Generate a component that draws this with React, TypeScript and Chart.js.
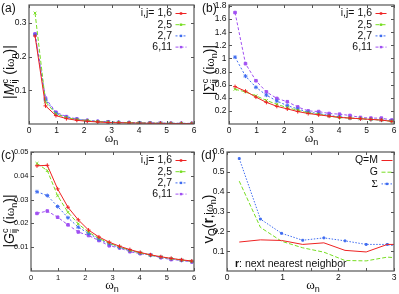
import React, { useEffect, useRef } from "react";
import { Chart, registerables } from "chart.js";

Chart.register(...registerables);

// ---------- data ----------
const OMEGA = [0.22, 0.6, 0.98, 1.36, 1.74, 2.12, 2.5, 2.88, 3.26, 3.64, 4.02, 4.4, 4.78, 5.16, 5.54, 5.92];

const M_16 = [0.262, 0.054, 0.025, 0.016, 0.011, 0.008, 0.006, 0.0045, 0.0035, 0.003, 0.0025, 0.002, 0.0018, 0.0015, 0.0013, 0.0012];
const M_25 = [0.33, 0.066, 0.03, 0.019, 0.013, 0.01, 0.007, 0.0055, 0.0045, 0.0037, 0.003, 0.0026, 0.0022, 0.0019, 0.0016, 0.0014];
const M_27 = [0.265, 0.072, 0.032, 0.02, 0.014, 0.01, 0.0075, 0.006, 0.0048, 0.004, 0.0033, 0.0028, 0.0024, 0.002, 0.0018, 0.0016];
const M_611 = [0.268, 0.077, 0.035, 0.022, 0.015, 0.011, 0.008, 0.0065, 0.005, 0.0042, 0.0036, 0.003, 0.0026, 0.0022, 0.002, 0.0017];

const S_16 = [0.57, 0.5, 0.41, 0.33, 0.27, 0.23, 0.19, 0.16, 0.14, 0.12, 0.1, 0.09, 0.08, 0.07, 0.06, 0.04];
const S_25 = [0.53, 0.49, 0.43, 0.36, 0.3, 0.25, 0.21, 0.17, 0.15, 0.12, 0.1, 0.09, 0.08, 0.07, 0.06, 0.04];
const S_27 = [1.02, 0.73, 0.56, 0.44, 0.35, 0.28, 0.23, 0.18, 0.16, 0.13, 0.11, 0.09, 0.08, 0.07, 0.06, 0.05];
const S_611 = [1.7, 0.92, 0.66, 0.49, 0.39, 0.34, 0.26, 0.2, 0.19, 0.16, 0.15, 0.13, 0.1, 0.09, 0.09, 0.06];

const G_16 = [0.0442, 0.0444, 0.0345, 0.0268, 0.0215, 0.0172, 0.0143, 0.0121, 0.0104, 0.009, 0.0078, 0.0068, 0.006, 0.0053, 0.0047, 0.0042];
const G_25 = [0.0452, 0.0422, 0.0316, 0.0247, 0.0198, 0.0163, 0.0137, 0.0117, 0.0101, 0.0087, 0.0076, 0.0067, 0.0059, 0.0052, 0.0046, 0.0041];
const G_27 = [0.0333, 0.0317, 0.0271, 0.0224, 0.0184, 0.0158, 0.0133, 0.0114, 0.0099, 0.0086, 0.0075, 0.0066, 0.0058, 0.0051, 0.0045, 0.004];
const G_611 = [0.0242, 0.0252, 0.0226, 0.0194, 0.0164, 0.0149, 0.0128, 0.0106, 0.0097, 0.0081, 0.0073, 0.0068, 0.0056, 0.0048, 0.0045, 0.0038];

const OMEGA_D = [0.22, 0.6, 0.98, 1.36, 1.74, 2.12, 2.5, 2.88, 3.26];
const V_M = [0.146, 0.157, 0.154, 0.134, 0.142, 0.104, 0.096, 0.134, 0.134];
const V_G = [0.453, 0.22, 0.15, 0.117, 0.095, 0.053, 0.051, 0.07, 0.062];
const V_S = [0.567, 0.262, 0.19, 0.155, 0.167, 0.152, 0.134, 0.134, 0.112];

const LEGEND_IJ = ["i,j= 1,6", "2,5", "2,7", "6,11"];
const LEGEND_D = ["Q=M", "G", "\u03A3"];

const X_TICKS_6 = [0, 1, 2, 3, 4, 5, 6];
const X_TICKS_3 = [0, 1, 2, 3];
const X_MINOR_3 = [0.5, 1.5, 2.5];
const Y_TICKS_A = [0.1, 0.2, 0.3];
const Y_TICKS_B = [0.2, 0.4, 0.6, 0.8, 1, 1.2, 1.4, 1.6, 1.8];
const Y_TICKS_C = [0.01, 0.02, 0.03, 0.04, 0.05];
const Y_TICKS_D = [0.1, 0.2, 0.3, 0.4, 0.5, 0.6];

// ---------- styles ----------
const SANS = '"Liberation Sans", Arial, sans-serif';
const SERIF = '"Liberation Serif", "DejaVu Serif", serif';
const RED = "#ee2222";
const GREEN = "#77dd22";
const BLUE = "#3f6cf0";
const PURPLE = "#a050f2";

type DS = { label: string; data: number[]; color: string; dash: number[]; pt: string | false; r: number };

const IJ_STYLES = [
  { color: RED, dash: [], pt: "cross", r: 2 },
  { color: GREEN, dash: [4, 2], pt: "crossRot", r: 2 },
  { color: BLUE, dash: [2, 2], pt: "star", r: 2 },
  { color: PURPLE, dash: [3, 2], pt: "rect", r: 1.8 },
];

type Seg = { t: string; f: string; dy?: number } | { sup: string; sub: string; f: string; up: number; down: number };

function drawRich(ctx: CanvasRenderingContext2D, segs: Seg[], cx: number, cy: number, rot: number, shift: number) {
  ctx.save();
  ctx.translate(cx, cy);
  ctx.rotate(rot);
  ctx.fillStyle = "#111";
  ctx.textBaseline = "alphabetic";
  ctx.textAlign = "left";
  const widths = segs.map((s: any) => {
    ctx.font = s.f;
    if (s.sup !== undefined) return Math.max(ctx.measureText(s.sup).width, ctx.measureText(s.sub).width) + 0.5;
    return ctx.measureText(s.t).width;
  });
  let x = -widths.reduce((a, b) => a + b, 0) / 2;
  segs.forEach((s: any, i) => {
    ctx.font = s.f;
    if (s.sup !== undefined) {
      ctx.fillText(s.sup, x, shift - s.up);
      ctx.fillText(s.sub, x, shift + s.down);
    } else {
      ctx.fillText(s.t, x, shift + (s.dy || 0));
    }
    x += widths[i];
  });
  ctx.restore();
}

const F14 = `14px ${SANS}`;
const F14I = `italic 14px ${SANS}`;
const F9 = `9px ${SANS}`;
const OM = `13px ${SERIF}`;

function ijTitle(letter: Seg): Seg[] {
  return [
    { t: "|", f: F14 },
    letter,
    { sup: "c", sub: "ij", f: F9, up: 6, down: 3 } as Seg,
    { t: " (i", f: F14 },
    { t: "\u03C9", f: OM },
    { t: "n", f: F9, dy: 3 },
    { t: ")|", f: F14 },
  ];
}

const X_TITLE: Seg[] = [
  { t: "\u03C9", f: OM },
  { t: "n", f: F9, dy: 3 },
];

type Panel = {
  key: string;
  left: number;
  top: number;
  w: number;
  h: number;
  area: { l: number; r: number; t: number; b: number };
  xMax: number;
  yMax: number;
  xTicks: number[];
  xMinor: number[];
  yTicks: number[];
  tickSize: number;
  x: number[];
  series: DS[];
  legend: string[];
  legendRight: number;
  legendTop: number;
  legendStep: number;
  yTitle: Seg[];
  yTitlePos: [number, number];
  xTitlePos: [number, number];
  tag: string;
  tagPos: [number, number];
  note?: boolean;
};

function ijSeries(arrs: number[][]): DS[] {
  return arrs.map((d, i) => ({ label: LEGEND_IJ[i], data: d, ...IJ_STYLES[i] }));
}

const PANELS: Panel[] = [
  {
    key: "a", left: 0, top: 0, w: 200, h: 147,
    area: { l: 29, r: 194, t: 4, b: 124 },
    xMax: 6, yMax: 0.354, xTicks: X_TICKS_6, xMinor: [], yTicks: Y_TICKS_A, tickSize: 8.5, x: OMEGA,
    series: ijSeries([M_16, M_25, M_27, M_611]),
    legend: LEGEND_IJ, legendRight: 172, legendTop: 13.5, legendStep: 11.2,
    yTitle: ijTitle({ t: "M", f: F14I }), yTitlePos: [9, 72], xTitlePos: [111.5, 138.5],
    tag: "(a)", tagPos: [1, 9],
  },
  {
    key: "b", left: 200, top: 0, w: 199, h: 147,
    area: { l: 29, r: 194, t: 4, b: 124 },
    xMax: 6, yMax: 1.815, xTicks: X_TICKS_6, xMinor: [], yTicks: Y_TICKS_B, tickSize: 8.5, x: OMEGA,
    series: ijSeries([S_16, S_25, S_27, S_611]),
    legend: LEGEND_IJ, legendRight: 172, legendTop: 13.5, legendStep: 11.2,
    yTitle: ijTitle({ t: "\u03A3", f: `14px ${SERIF}` }), yTitlePos: [9, 70], xTitlePos: [111.5, 138.5],
    tag: "(b)", tagPos: [2, 9],
  },
  {
    key: "c", left: 0, top: 147, w: 200, h: 147,
    area: { l: 31, r: 194, t: 5, b: 124 },
    xMax: 6, yMax: 0.05, xTicks: X_TICKS_6, xMinor: [], yTicks: Y_TICKS_C, tickSize: 7.5, x: OMEGA,
    series: ijSeries([G_16, G_25, G_27, G_611]),
    legend: LEGEND_IJ, legendRight: 172, legendTop: 13.5, legendStep: 11.2,
    yTitle: ijTitle({ t: "G", f: F14I }), yTitlePos: [8.5, 74], xTitlePos: [112, 138.5],
    tag: "(c)", tagPos: [1, 9],
  },
  {
    key: "d", left: 200, top: 147, w: 199, h: 147,
    area: { l: 27, r: 196.5, t: 5, b: 124 },
    xMax: 3, yMax: 0.6, xTicks: X_TICKS_3, xMinor: X_MINOR_3, yTicks: Y_TICKS_D, tickSize: 8.5, x: OMEGA_D,
    series: [
      { label: LEGEND_D[0], data: V_M, color: RED, dash: [], pt: false, r: 0 },
      { label: LEGEND_D[1], data: V_G, color: GREEN, dash: [4, 2], pt: false, r: 0 },
      { label: LEGEND_D[2], data: V_S, color: BLUE, dash: [1.5, 1.5], pt: "rect", r: 1.3 },
    ],
    legend: LEGEND_D, legendRight: 178, legendTop: 13.5, legendStep: 11.7,
    yTitle: [
      { t: "v", f: `15px ${SANS}` },
      { t: "Q", f: `10px ${SANS}`, dy: 3 },
      { t: "(", f: F14 },
      { t: "r", f: `bold 14px ${SANS}` },
      { t: ",i", f: `12px ${SANS}` },
      { t: "\u03C9", f: `12px ${SERIF}` },
      { t: "n", f: F9, dy: 3 },
      { t: ")", f: F14 },
    ],
    yTitlePos: [8, 72], xTitlePos: [113, 138.5],
    tag: "(d)", tagPos: [1, 9], note: true,
  },
];

function fmt(v: number): string {
  return String(Math.round(v * 1000) / 1000);
}

function makePlugin(p: Panel) {
  return {
    id: "deco_" + p.key,
    afterDatasetsDraw(chart: any) {
      const ctx: CanvasRenderingContext2D = chart.ctx;
      const xs = chart.scales.x;
      const ys = chart.scales.y;
      const { left, right, top, bottom } = chart.chartArea;
      ctx.save();
      // frame
      ctx.strokeStyle = "#555";
      ctx.lineWidth = 1.2;
      ctx.strokeRect(left, top, right - left, bottom - top);
      // inward ticks
      ctx.lineWidth = 1;
      ctx.strokeStyle = "#555";
      ctx.beginPath();
      const tl = 3;
      [...p.xTicks, ...p.xMinor].forEach((v) => {
        const px = Math.round(xs.getPixelForValue(v)) + 0.5;
        ctx.moveTo(px, bottom);
        ctx.lineTo(px, bottom - tl);
        ctx.moveTo(px, top);
        ctx.lineTo(px, top + tl);
      });
      p.yTicks.forEach((v) => {
        const py = Math.round(ys.getPixelForValue(v)) + 0.5;
        ctx.moveTo(left, py);
        ctx.lineTo(left + tl, py);
        ctx.moveTo(right, py);
        ctx.lineTo(right - tl, py);
      });
      ctx.stroke();

      // legend
      ctx.textAlign = "right";
      ctx.textBaseline = "middle";
      p.series.forEach((s, i) => {
        const y = p.legendTop + i * p.legendStep;
        ctx.fillStyle = "#111";
        ctx.font = s.label === "\u03A3" ? `11px ${SERIF}` : `10.5px ${SANS}`;
        ctx.fillText(s.label, p.legendRight, y);
        const x1 = p.legendRight + 3.5;
        const x2 = x1 + 11;
        ctx.strokeStyle = s.color;
        ctx.lineWidth = 1;
        ctx.setLineDash(s.dash);
        ctx.beginPath();
        ctx.moveTo(x1, y);
        ctx.lineTo(x2, y);
        ctx.stroke();
        ctx.setLineDash([]);
        if (s.pt) {
          ctx.fillStyle = s.color;
          ctx.fillRect((x1 + x2) / 2 - 1.2, y - 1.2, 2.4, 2.4);
        }
      });

      // titles
      drawRich(ctx, p.yTitle, p.yTitlePos[0], p.yTitlePos[1], -Math.PI / 2, 5);
      drawRich(ctx, X_TITLE, p.xTitlePos[0], p.xTitlePos[1], 0, 3.5);

      // panel tag
      ctx.fillStyle = "#111";
      ctx.font = `12px ${SANS}`;
      ctx.textAlign = "left";
      ctx.textBaseline = "middle";
      ctx.fillText(p.tag, p.tagPos[0], p.tagPos[1]);

      if (p.note) {
        ctx.textBaseline = "middle";
        ctx.font = `bold 10.5px ${SANS}`;
        const nx = 35;
        const ny = 117;
        ctx.fillText("r", nx, ny);
        const w = ctx.measureText("r").width;
        ctx.font = `10.5px ${SANS}`;
        ctx.fillText(": next nearest neighbor", nx + w, ny);
      }
      ctx.restore();
    },
  };
}

function PanelChart({ p }: { p: Panel }) {
  const ref = useRef<HTMLCanvasElement | null>(null);
  useEffect(() => {
    if (!ref.current) return;
    const tickFont = { family: SANS, size: p.tickSize };
    const chart = new Chart(ref.current, {
      type: "line",
      data: {
        datasets: p.series.map((s) => ({
          label: s.label,
          data: p.x.map((xv, i) => ({ x: xv, y: s.data[i] })),
          borderColor: s.color,
          backgroundColor: s.color,
          borderWidth: 1,
          borderDash: s.dash,
          pointStyle: (s.pt || "circle") as any,
          pointRadius: s.r,
          pointBorderWidth: 1,
          pointBorderColor: s.color,
          pointBackgroundColor: s.color,
          tension: 0,
          fill: false,
        })),
      },
      options: {
        animation: false,
        responsive: false,
        devicePixelRatio: 1,
        layout: { padding: { left: 0, top: p.area.t, right: p.w - p.area.r, bottom: 0 } },
        plugins: { legend: { display: false }, tooltip: { enabled: false }, title: { display: false } },
        scales: {
          x: {
            type: "linear",
            min: 0,
            max: p.xMax,
            grid: { display: false, drawTicks: false },
            border: { display: false },
            ticks: { font: tickFont, color: "#111", padding: 2, maxRotation: 0, autoSkip: false, callback: (v: any) => fmt(Number(v)) },
            afterBuildTicks: (s: any) => {
              s.ticks = p.xTicks.map((v) => ({ value: v }));
            },
            afterFit: (s: any) => {
              s.height = p.h - p.area.b;
              s.paddingLeft = 0;
              s.paddingRight = 0;
              s.paddingTop = 0;
              s.paddingBottom = 0;
            },
          },
          y: {
            type: "linear",
            min: 0,
            max: p.yMax,
            grid: { display: false, drawTicks: false },
            border: { display: false },
            ticks: { font: tickFont, color: "#111", padding: 2.5, autoSkip: false, callback: (v: any) => fmt(Number(v)) },
            afterBuildTicks: (s: any) => {
              s.ticks = p.yTicks.map((v) => ({ value: v }));
            },
            afterFit: (s: any) => {
              s.width = p.area.l;
              s.paddingLeft = 0;
              s.paddingRight = 0;
              s.paddingTop = 0;
              s.paddingBottom = 0;
            },
          },
        },
      } as any,
      plugins: [makePlugin(p)],
    });
    return () => chart.destroy();
  }, [p]);
  return (
    <div style={{ position: "absolute", left: p.left, top: p.top, width: p.w, height: p.h }}>
      <canvas ref={ref} width={p.w} height={p.h} style={{ width: p.w, height: p.h, display: "block" }} />
    </div>
  );
}

export default function App() {
  return (
    <div style={{ position: "absolute", left: 0, top: 0, width: 399, height: 294, background: "#fff", overflow: "hidden" }}>
      {PANELS.map((p) => (
        <PanelChart key={p.key} p={p} />
      ))}
    </div>
  );
}
